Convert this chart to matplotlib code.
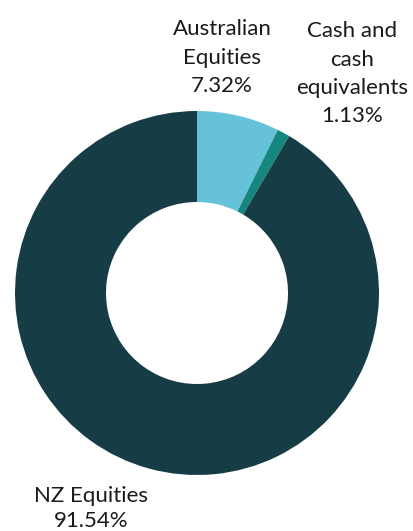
import matplotlib
matplotlib.use("Agg")
import matplotlib.pyplot as plt

categories = ["Australian Equities", "Cash and cash equivalents", "NZ Equities"]
values = [7.32, 1.13, 91.54]
label_texts = ["Australian\nEquities\n7.32%", "Cash and\ncash\nequivalents\n1.13%", "NZ Equities\n91.54%"]
colors = ["#66c2d9", "#16877f", "#163c46"]

W, H = 414, 531
fig = plt.figure(figsize=(W / 100, H / 100), dpi=100)
cx, cy, r = 197, 293, 182
ax = fig.add_axes([(cx - r) / W, (H - cy - r) / H, 2 * r / W, 2 * r / H])
ax.pie(values, colors=colors, startangle=90, counterclock=False, radius=1,
       wedgeprops=dict(width=0.5, edgecolor="none"))
ax.set_xlim(-1, 1)
ax.set_ylim(-1, 1)
ax.axis("off")

# (center x, first baseline y, line pitch) in pixels
positions = [(222, 35, 28.5), (352, 37, 28.5), (91, 502, 25)]
for txt, (x, y0, pitch) in zip(label_texts, positions):
    for i, line in enumerate(txt.split("\n")):
        fig.text(x / W, 1 - (y0 + i * pitch) / H, line, ha="center", va="baseline",
                 fontsize=16, family="Lato", color="#1a1a1a")

fig.savefig("out.png", dpi=100)
